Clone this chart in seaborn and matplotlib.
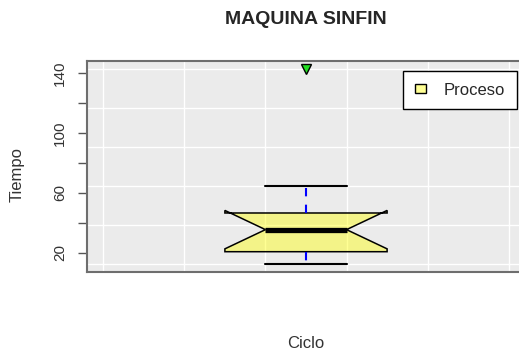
import numpy as np
import matplotlib
matplotlib.use("Agg")
import matplotlib.pyplot as plt
from matplotlib.patches import Patch
import seaborn as sns

# tiempos de ciclo
tiempo = [12.6, 16.0, 20.0, 23.0, 33.5, 37.5, 44.0, 47.5, 65.0, 143.0]
serie = "Proceso"
titulo = "MAQUINA SINFIN"
y_ticks = [20, 40, 60, 80, 100, 120, 140]
y_labels = ["20", "", "60", "", "100", "", "140"]

sns.set_style("white")
plt.rcParams["font.family"] = ["Liberation Sans", "DejaVu Sans"]

fig = plt.figure(figsize=(5.19, 3.54), dpi=100)
# el panel sigue mas alla del borde derecho, como en la captura
ax = fig.add_axes([87 / 519, 1 - 271.7 / 354, 438 / 519, 210.7 / 354])
ax.set_facecolor("#EBEBEB")

sns.boxplot(
    y=tiempo,
    ax=ax,
    width=0.4,
    notch=True,
    saturation=1,
    color="yellow",
    linecolor="black",
    linewidth=1.1,
    capwidths=0.2,
    fliersize=7,
    whiskerprops=dict(color="blue", linestyle=(0, (4, 4)), linewidth=1.5),
    capprops=dict(color="black", linewidth=1.5),
    medianprops=dict(color="black", linewidth=3.8),
    flierprops=dict(marker="v", markerfacecolor="#22dd22",
                    markeredgecolor="black", markersize=7),
)

for p in ax.patches:
    p.set_facecolor((1, 1, 0, 0.42))
    p.set_zorder(2)

# rejilla blanca
for v in np.linspace(-0.5, 0.5, 6):
    ax.axvline(v, color="white", linewidth=1, zorder=0.5)
for v in np.linspace(min(tiempo), max(tiempo), 6):
    ax.axhline(v, color="white", linewidth=1, zorder=0.5)

rng = max(tiempo) - min(tiempo)
ax.set_xlim(-0.54, 0.54)
ax.set_ylim(min(tiempo) - 0.04 * rng, max(tiempo) + 0.04 * rng)

ax.set_xticks([])
ax.set_yticks(y_ticks)
ax.set_yticklabels(y_labels, rotation=90, va="center", color="#333333",
                   fontsize=11)
ax.tick_params(axis="y", left=True, length=6.5, width=1, color="#555555",
               pad=8)
ax.set_xlabel("")
ax.set_ylabel("")

for side in ["left", "top", "bottom"]:
    ax.spines[side].set_color("#6e6e6e")
    ax.spines[side].set_linewidth(1.5)
ax.spines["right"].set_visible(False)

fig.text(305.5 / 519, 1 - 20 / 354, titulo, ha="center", va="center",
         fontsize=14, fontweight="bold")
fig.text(306 / 519, 1 - 343 / 354, "Ciclo", ha="center", va="center",
         fontsize=12, color="#333333")
fig.text(17 / 519, 1 - 175 / 354, "Tiempo", ha="center", va="center",
         rotation=90, fontsize=12, color="#333333")

handle = Patch(facecolor=(1, 1, 0, 0.42), edgecolor="black", linewidth=1)
ax.legend(
    [handle], [serie],
    loc="upper right",
    bbox_to_anchor=(517 / 519, 1 - 71 / 354),
    bbox_transform=fig.transFigure,
    borderaxespad=0,
    fontsize=12,
    frameon=True,
    fancybox=False,
    framealpha=1,
    edgecolor="black",
    borderpad=0.7,
    handlelength=0.65,
    handleheight=0.5,
    handletextpad=1.1,
)
ax.get_legend().get_frame().set_linewidth(1)

plt.savefig("out.png", dpi=100)
